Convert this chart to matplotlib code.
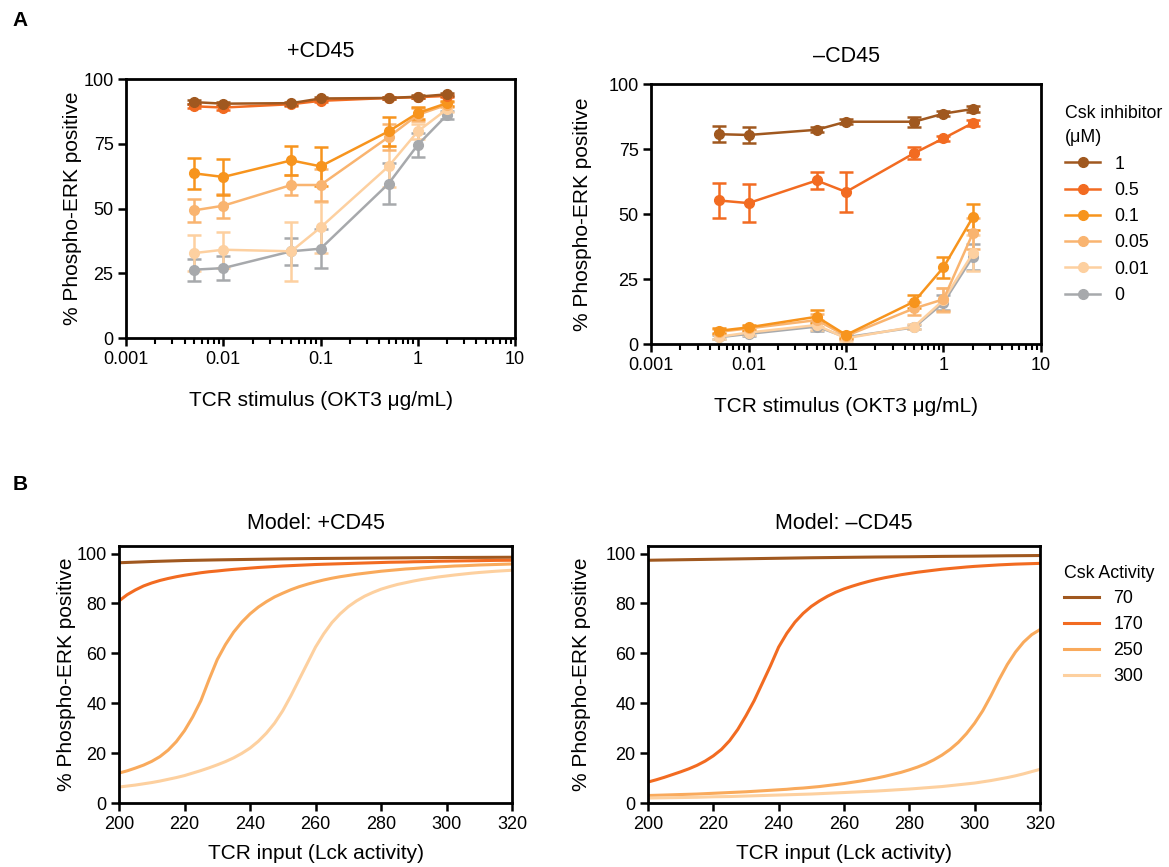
import matplotlib
matplotlib.use("Agg")
import matplotlib.pyplot as plt
from matplotlib.lines import Line2D

plt.rcParams['font.family'] = ['Liberation Sans', 'DejaVu Sans']

# experimental data (panel A)
dose = [0.005, 0.01, 0.05, 0.1, 0.5, 1, 2]
inhib = ['1', '0.5', '0.1', '0.05', '0.01', '0']
inhib_colors = ['#a0581f', '#f26b21', '#f7941d', '#f9b470', '#fdd0a0', '#a7a9ac']

plus_mean = {
    '1':    [91.1, 90.5, 90.7, 92.5, 92.7, 93.2, 94.1],
    '0.5':  [89.5, 89.0, 90.3, 91.6, 92.7, 93.0, 93.5],
    '0.1':  [63.6, 62.2, 68.6, 66.3, 79.8, 86.9, 90.7],
    '0.05': [49.3, 51.1, 59.1, 59.1, 77.6, 86.2, 90.1],
    '0.01': [32.8, 34.1, 33.5, 42.7, 66.3, 79.8, 88.4],
    '0':    [26.4, 27.0, 33.5, 34.5, 59.6, 74.6, 86.2],
}
plus_err = {
    '1':    [0.8, 0.8, 0.6, 0.6, 0.5, 0.5, 0.5],
    '0.5':  [0.8, 0.8, 0.6, 0.6, 0.5, 0.5, 0.5],
    '0.1':  [6.0, 7.0, 5.5, 7.5, 5.5, 2.5, 1.0],
    '0.05': [4.3, 4.7, 4.0, 6.0, 5.0, 2.5, 1.0],
    '0.01': [7.0, 7.0, 11.4, 10.0, 8.0, 3.0, 1.2],
    '0':    [4.3, 4.7, 5.3, 7.6, 8.0, 4.5, 1.5],
}
minus_mean = {
    '1':    [80.7, 80.4, 82.4, 85.5, 85.5, 88.6, 90.4],
    '0.5':  [55.2, 54.2, 62.9, 58.5, 73.4, 79.1, 85.0],
    '0.1':  [5.1, 6.4, 10.5, 3.5, 16.3, 29.5, 48.8],
    '0.05': [4.7, 6.0, 9.2, 3.1, 13.7, 17.2, 42.6],
    '0.01': [2.8, 4.4, 7.3, 2.2, 6.7, 16.9, 34.9],
    '0':    [2.6, 3.9, 6.7, 2.6, 6.4, 15.9, 33.6],
}
minus_err = {
    '1':    [3.0, 3.0, 1.0, 1.0, 2.0, 1.0, 1.0],
    '0.5':  [6.9, 7.3, 3.3, 7.6, 2.4, 1.0, 1.0],
    '0.1':  [1.0, 1.0, 2.5, 1.0, 2.5, 4.0, 5.0],
    '0.05': [1.0, 1.0, 2.5, 1.0, 2.5, 4.5, 6.0],
    '0.01': [1.0, 1.0, 2.0, 1.0, 1.0, 4.5, 7.0],
    '0':    [0.8, 0.8, 1.5, 0.8, 0.8, 3.0, 5.0],
}

# model curves (panel B)
lck = [200 + 2.5 * i for i in range(49)]          # 200 .. 320
lck_coarse = [200, 210, 220, 230, 240, 250, 260, 270, 280, 290, 300, 310, 320]
csk = ['70', '170', '250', '300']
csk_colors = ['#a0581f', '#f26b21', '#f9aa5c', '#fdd09f']

plus_70 = [96.3, 96.8, 97.2, 97.45, 97.65, 97.85, 98.0, 98.1, 98.2, 98.3,
           98.4, 98.45, 98.5]
plus_170 = [81.0, 83.5, 85.4, 87.0, 88.2, 89.2, 90.0, 90.7, 91.3, 91.8,
            92.3, 92.7, 93.0, 93.35, 93.65, 93.9, 94.15, 94.4, 94.6, 94.8,
            95.0, 95.15, 95.3, 95.45, 95.6, 95.7, 95.8, 95.9, 96.0, 96.1,
            96.2, 96.3, 96.4, 96.5, 96.55, 96.6, 96.7, 96.75, 96.8, 96.9,
            96.95, 97.0, 97.05, 97.1, 97.15, 97.2, 97.25, 97.28, 97.3]
plus_250 = [12.0, 12.9, 14.0, 15.2, 16.7, 18.6, 21.2, 24.6, 29.0, 34.5,
            41.0, 49.5, 57.5, 63.5, 68.5, 72.5, 75.8, 78.5, 80.7, 82.6,
            84.1, 85.5, 86.7, 87.7, 88.6, 89.4, 90.1, 90.7, 91.2, 91.7,
            92.1, 92.5, 92.9, 93.2, 93.5, 93.8, 94.0, 94.25, 94.45, 94.65,
            94.8, 95.0, 95.1, 95.25, 95.4, 95.5, 95.6, 95.7, 95.8]
plus_300 = [6.4, 6.8, 7.2, 7.7, 8.2, 8.8, 9.5, 10.2, 11.0, 12.0,
            13.0, 14.1, 15.3, 16.6, 18.1, 19.9, 22.0, 24.7, 28.0, 32.0,
            37.0, 43.0, 49.5, 56.0, 62.5, 67.8, 72.3, 75.8, 78.7, 81.0,
            82.9, 84.4, 85.7, 86.7, 87.6, 88.3, 89.0, 89.6, 90.1, 90.6,
            91.0, 91.4, 91.75, 92.1, 92.4, 92.65, 92.9, 93.1, 93.3]

minus_70 = [97.3, 97.5, 97.7, 97.9, 98.1, 98.3, 98.45, 98.6, 98.7, 98.85,
            98.95, 99.1, 99.2]
minus_170 = [8.4, 9.3, 10.3, 11.4, 12.5, 13.7, 15.1, 16.8, 18.9, 21.5,
             25.0, 29.5, 35.0, 41.0, 48.0, 55.0, 62.5, 68.0, 72.5, 76.0,
             78.8, 81.0, 82.9, 84.5, 85.8, 86.9, 87.9, 88.8, 89.6, 90.3,
             90.9, 91.5, 92.0, 92.5, 92.9, 93.3, 93.7, 94.0, 94.3, 94.6,
             94.85, 95.05, 95.25, 95.45, 95.6, 95.75, 95.85, 95.95, 96.05]
minus_250 = [3.0, 3.1, 3.2, 3.3, 3.4, 3.5, 3.6, 3.75, 3.9, 4.05,
             4.2, 4.35, 4.5, 4.7, 4.9, 5.1, 5.3, 5.5, 5.8, 6.0,
             6.3, 6.6, 7.0, 7.4, 7.8, 8.3, 8.8, 9.4, 10.0, 10.7,
             11.5, 12.3, 13.3, 14.4, 15.7, 17.3, 19.2, 21.5, 24.3, 27.8,
             32.0, 37.0, 43.0, 49.5, 55.5, 60.5, 64.5, 67.5, 69.5]
minus_300 = [2.0, 2.05, 2.1, 2.15, 2.2, 2.25, 2.3, 2.4, 2.5, 2.55,
             2.6, 2.7, 2.8, 2.9, 3.0, 3.1, 3.2, 3.3, 3.4, 3.5,
             3.6, 3.75, 3.9, 4.05, 4.2, 4.35, 4.5, 4.65, 4.8, 5.0,
             5.2, 5.4, 5.6, 5.85, 6.1, 6.35, 6.6, 6.95, 7.3, 7.65,
             8.0, 8.5, 9.0, 9.6, 10.2, 10.9, 11.7, 12.6, 13.5]

model_plus = {'70': (lck_coarse, plus_70), '170': (lck, plus_170),
              '250': (lck, plus_250), '300': (lck, plus_300)}
model_minus = {'70': (lck_coarse, minus_70), '170': (lck, minus_170),
               '250': (lck, minus_250), '300': (lck, minus_300)}

fig = plt.figure(figsize=(11.69, 8.67), dpi=100)

TICK_FS = 13
LABEL_FS = 15
TITLE_FS = 15.5
LEG_FS = 12.8

def style_ax(ax):
    for s in ax.spines.values():
        s.set_linewidth(2.0)
    ax.tick_params(which='major', direction='out', length=6, width=1.8,
                   labelsize=TICK_FS, pad=3)
    ax.tick_params(which='minor', direction='out', length=4, width=1.5)

def panel_a(rect, means, errs, title, ypad):
    ax = fig.add_axes(rect)
    for k, c in reversed(list(zip(inhib, inhib_colors))):
        ax.errorbar(dose, means[k], yerr=errs[k], color=c, marker='o', ms=7,
                    lw=1.8, elinewidth=1.8, capsize=5, capthick=1.8)
    ax.set_xscale('log')
    ax.set_xlim(0.001, 10)
    ax.set_ylim(0, 100)
    ax.set_yticks([0, 25, 50, 75, 100])
    ax.set_xticks([0.001, 0.01, 0.1, 1, 10])
    ax.set_xticklabels(['0.001', '0.01', '0.1', '1', '10'])
    ax.set_xlabel('TCR stimulus (OKT3 \u03bcg/mL)', fontsize=LABEL_FS, labelpad=17)
    ax.set_ylabel('% Phospho-ERK positive', fontsize=LABEL_FS, labelpad=ypad)
    ax.set_title(title, fontsize=TITLE_FS, pad=16)
    style_ax(ax)
    return ax

def panel_b(rect, curves, title, ypad):
    ax = fig.add_axes(rect)
    for k, c in zip(csk, csk_colors):
        xs, ys = curves[k]
        ax.plot(xs, ys, color=c, lw=2.2, label=k)
    ax.set_xlim(200, 320)
    ax.set_ylim(0, 103)
    ax.set_xticks(range(200, 321, 20))
    ax.set_yticks(range(0, 101, 20))
    ax.set_xlabel('TCR input (Lck activity)', fontsize=LABEL_FS, labelpad=8)
    ax.set_ylabel('% Phospho-ERK positive', fontsize=LABEL_FS, labelpad=ypad)
    ax.set_title(title, fontsize=TITLE_FS, pad=12)
    style_ax(ax)
    return ax

axa1 = panel_a([0.1078, 0.6101, 0.3328, 0.2987], plus_mean, plus_err, '+CD45', 1)
axa2 = panel_a([0.5569, 0.6032, 0.3336, 0.2999], minus_mean, minus_err,
               '\u2013CD45', 12)
handles = [Line2D([], [], color=c, marker='o', ms=7, lw=1.8) for c in inhib_colors]
leg_a = axa2.legend(handles, inhib, title='Csk inhibitor\n(\u03bcM)', loc='upper left',
                    bbox_to_anchor=(1.02, 0.98), frameon=False, fontsize=LEG_FS,
                    title_fontsize=LEG_FS, alignment='left', handlelength=2.0,
                    labelspacing=0.52)
leg_a.get_title().set_linespacing(1.55)

axb1 = panel_b([0.1018, 0.0738, 0.3362, 0.2964], model_plus, 'Model: +CD45', 0)
axb2 = panel_b([0.5543, 0.0738, 0.3353, 0.2964], model_minus,
               'Model: \u2013CD45', 10)
axb2.legend(title='Csk Activity', loc='upper left', bbox_to_anchor=(1.02, 0.99),
            frameon=False, fontsize=LEG_FS, title_fontsize=LEG_FS, alignment='left',
            handlelength=2.0, labelspacing=0.5)

fig.text(0.011, 0.970, 'A', fontsize=15, fontweight='bold')
fig.text(0.011, 0.435, 'B', fontsize=15, fontweight='bold')

fig.savefig('out.png', dpi=100)
